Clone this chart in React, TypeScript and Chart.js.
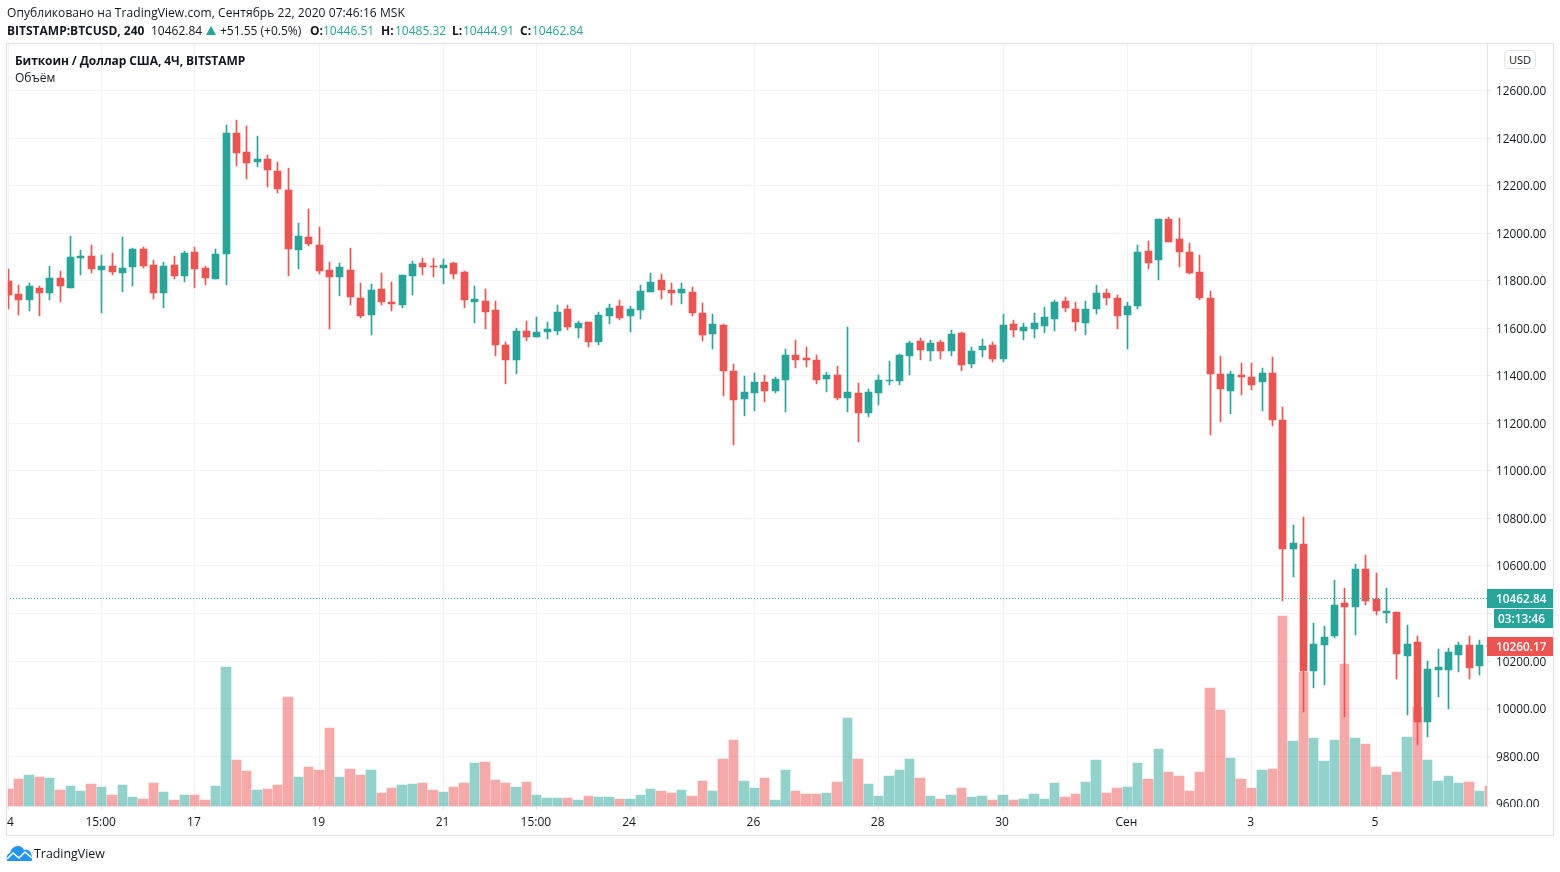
import React, { useEffect, useRef } from "react";
import { Chart, registerables } from "chart.js";

Chart.register(...registerables);

const opens = [11799,11745,11719,11770,11749,11812,11770,11896,11904,11846,11862,11833,11858,11934,11867,11749,11867,11820,11921,11854,11808,11913,12422,12343,12300,12313,12262,12182,11930,11985,11951,11846,11816,11846,11728,11656,11764,11709,11696,11819,11873,11861,11852,11873,11835,11709,11713,11675,11528,11465,11587,11562,11583,11587,11680,11600,11625,11541,11650,11692,11650,11675,11751,11802,11760,11747,11751,11663,11574,11612,11419,11301,11326,11372,11338,11381,11486,11473,11465,11385,11402,11305,11326,11242,11326,11376,11376,11482,11545,11503,11541,11503,11578,11448,11507,11528,11469,11616,11587,11595,11608,11637,11713,11680,11621,11680,11747,11726,11656,11694,11926,11888,12060,11976,11921,11837,11728,11408,11336,11403,11395,11374,11412,11214,10671,10692,10157,10266,10304,10443,10426,10586,10460,10401,10405,10220,10279,9942,10161,10161,10224,10266,10178,10266];
const highs = [11848,11782,11791,11778,11862,11841,11989,11930,11951,11909,11917,11985,11938,11942,11888,11879,11904,11926,11942,11862,11934,12456,12477,12452,12410,12330,12300,12275,12044,12102,12027,11879,11875,11938,11791,11787,11831,11793,11823,11882,11894,11894,11890,11877,11840,11776,11764,11713,11541,11600,11629,11646,11625,11696,11696,11629,11625,11667,11701,11717,11692,11781,11831,11827,11789,11789,11772,11705,11659,11616,11448,11397,11410,11402,11393,11511,11549,11520,11486,11414,11440,11604,11368,11343,11402,11461,11490,11545,11557,11549,11549,11591,11583,11520,11553,11541,11658,11633,11621,11663,11688,11717,11730,11709,11713,11781,11764,11738,11711,11951,11968,12060,12069,12065,11959,11909,11757,11484,11420,11454,11454,11433,11479,11269,10772,10805,10359,10346,10540,10506,10607,10645,10570,10506,10405,10351,10304,10199,10250,10254,10279,10304,10287,10290];
const lows = [11681,11656,11673,11652,11719,11711,11770,11825,11833,11665,11825,11753,11778,11854,11724,11686,11808,11795,11770,11782,11808,11782,12283,12229,12279,12195,12170,11820,11850,11947,11829,11597,11736,11698,11644,11572,11696,11671,11684,11738,11823,11814,11785,11806,11684,11621,11595,11482,11364,11406,11545,11562,11553,11570,11591,11557,11520,11528,11616,11633,11583,11637,11751,11722,11696,11701,11650,11545,11511,11313,11107,11229,11250,11288,11326,11246,11431,11435,11364,11330,11296,11246,11120,11225,11275,11360,11360,11402,11465,11461,11469,11482,11419,11431,11477,11456,11456,11562,11549,11557,11578,11587,11667,11587,11570,11659,11696,11595,11513,11681,11850,11804,11963,11858,11829,11719,11151,11206,11239,11319,11340,11252,11189,10452,10553,9984,10085,10098,10296,9963,10309,10435,10393,10359,10123,9972,9845,9879,10048,9997,10153,10123,10140,10240];
const closes = [11740,11719,11778,11749,11812,11778,11900,11904,11850,11862,11837,11854,11934,11862,11749,11862,11820,11917,11850,11812,11913,12422,12338,12296,12313,12267,12187,11934,11989,11955,11841,11816,11858,11732,11652,11761,11709,11701,11823,11869,11856,11856,11865,11827,11717,11722,11667,11528,11465,11587,11562,11583,11595,11667,11604,11621,11541,11654,11684,11642,11680,11755,11793,11760,11747,11764,11663,11570,11616,11419,11296,11330,11372,11338,11385,11486,11465,11465,11381,11402,11305,11330,11242,11330,11381,11381,11486,11536,11507,11536,11503,11574,11444,11503,11524,11469,11612,11591,11604,11621,11646,11709,11684,11625,11680,11747,11726,11650,11694,11921,11875,12060,11963,11921,11833,11728,11408,11345,11408,11395,11361,11412,11214,10671,10696,10157,10271,10300,10435,10426,10586,10452,10410,10410,10229,10271,9942,10165,10174,10237,10266,10170,10266,10260.17];
const volumes = [1670,2670,3070,2870,2770,1570,1970,1470,2170,1870,1070,2070,870,670,2270,1370,570,1070,1070,570,1970,13870,4570,3470,1570,1670,2070,10870,2870,3870,3570,7770,2870,3670,3070,3570,1270,1770,2070,2200,2300,1600,1400,1900,2300,4300,4400,2600,2300,1900,2400,1100,800,800,800,600,1000,900,900,700,700,1100,1700,1500,1300,1600,1000,2500,1500,4700,6600,2500,1800,2800,600,3600,1500,1200,1200,1300,2400,8800,4700,2200,1000,3000,3600,4700,2800,1000,700,1100,1800,900,1000,600,1100,600,700,1200,700,2300,900,1200,2400,4600,1300,1800,1900,4300,2700,5700,3400,3000,1500,3400,11800,9600,4800,2700,1800,3600,3700,19000,6500,13400,6800,4500,6600,14200,6800,6200,3900,3100,3400,6900,9900,4600,2500,3000,2300,2400,1500,2000];

const tickIndices = [0, 9, 18, 30, 42, 51, 60, 72, 84, 96, 108, 120, 132];
const tickLabels = ["4", "15:00", "17", "19", "21", "15:00", "24", "26", "28", "30", "Сен", "3", "5"];
const priceTicks = [9600, 9800, 10000, 10200, 10400, 10600, 10800, 11000, 11200, 11400, 11600, 11800, 12000, 12200, 12400, 12600];
const currentPrice = 10462.84;
const lastBarClose = 10260.17;
const countdown = "03:13:46";

const FONT = "'Open Sans', sans-serif";
const UP = "#26a69a";
const DOWN = "#ef5350";
const UP_VOL = "rgba(38,166,154,0.5)";
const DOWN_VOL = "rgba(239,83,80,0.5)";
const GRID = "#f0f3fa";
const FRAME = "#e0e3eb";
const TEXT = "#131722";

const isUp = (i: number) => closes[i] >= opens[i];

const snapPlugin = {
  id: "snap",
  afterDatasetsUpdate(chart: any) {
    const floorY = chart.chartArea.bottom;
    chart.getSortedVisibleDatasetMetas().forEach((meta: any) => {
      if (meta.type !== "bar") return;
      const kind = chart.data.datasets[meta.index].label;
      const cols = meta.data.map((el: any) => Math.round(el.x - 0.5));
      meta.data.forEach((el: any, i: number) => {
        const col = cols[i];
        if (kind === "Объём") {
          const right = col + 5;
          const left = i > 0 ? cols[i - 1] + 6 : col - 4;
          el.x = (left + right) / 2;
          el.width = right - left;
          el.y = Math.round(el.y);
          el.base = floorY;
        } else {
          el.x = col + 0.5;
          el.y = Math.round(el.y);
          el.base = Math.round(el.base);
          if (el.y === el.base) el.base += 1;
        }
      });
    });
  },
};

const decorPlugin = {
  id: "decor",
  beforeDraw(chart: any) {
    const xItems = chart.scales.x.getLabelItems();
    xItems.forEach((it: any, i: number) => {
      if (!it.shifted) {
        it.shifted = true;
        it.options.translation[0] += i === 0 ? 2 : -1;
      }
    });
    chart.scales.y.getLabelItems().forEach((it: any) => {
      if (!it.shifted) {
        it.shifted = true;
        const t = it.options.translation;
        t[1] = Math.round(t[1] - 0.5) + 1.5;
      }
    });
  },
  afterDraw(chart: any) {
    const { ctx, scales } = chart;
    const area = chart.chartArea;
    const y = scales.y;
    ctx.save();
    ctx.fillStyle = "#ffffff";
    ctx.fillRect(area.right + 1, area.bottom + 1, 65, 12);
    ctx.strokeStyle = FRAME;
    ctx.lineWidth = 1;
    ctx.strokeRect(6.5, 43.5, 1547, 792);
    const tag = (value: number, color: string, text: string, x: number, dy: number, tx: number) => {
      const cy = Math.floor(y.getPixelForValue(value)) + 0.5 + dy;
      ctx.fillStyle = color;
      ctx.fillRect(x, cy - 9.5, 1553 - x, 19);
      ctx.fillStyle = "#ffffff";
      ctx.font = `600 11.8px ${FONT}`;
      ctx.textBaseline = "middle";
      ctx.textAlign = "left";
      ctx.fillText(text, tx, cy + 1);
    };
    tag(currentPrice, UP, currentPrice.toFixed(2), 1487, 0, 1496);
    tag(currentPrice, UP, countdown, 1494, 20, 1498);
    tag(lastBarClose, DOWN, lastBarClose.toFixed(2), 1487, 0, 1496);
    ctx.restore();
  },
};

const headerItems: [string, number, number, string, boolean][] = [
  ["Опубликовано на TradingView.com, Сентябрь 22, 2020 07:46:16 MSK", 7, 13, TEXT, false],
  ["BITSTAMP:BTCUSD, 240", 7, 30.5, TEXT, true],
  ["10462.84", 151, 30.5, TEXT, false],
  ["+51.55 (+0.5%)", 220, 30.5, TEXT, false],
  ["O:", 310, 30.5, TEXT, true],
  ["10446.51", 323, 30.5, UP, false],
  ["H:", 381, 30.5, TEXT, true],
  ["10485.32", 395, 30.5, UP, false],
  ["L:", 452, 30.5, TEXT, true],
  ["10444.91", 463, 30.5, UP, false],
  ["C:", 520, 30.5, TEXT, true],
  ["10462.84", 532, 30.5, UP, false],
  ["Биткоин / Доллар США, 4Ч, BITSTAMP", 15, 61, TEXT, true],
  ["Объём", 15, 78, TEXT, false],
];

export default function App() {
  const ref = useRef<HTMLCanvasElement>(null);
  useEffect(() => {
    const pts = (a: any[]) => a.map((y, x) => ({ x, y }));
    const chart = new Chart(ref.current as any, {
      type: "bar",
      data: {
        datasets: [
          {
            type: "line",
            label: "Цена",
            data: [{ x: -1, y: currentPrice }, { x: 144, y: currentPrice }],
            borderColor: UP,
            borderWidth: 1,
            borderDash: [1, 2],
            pointRadius: 0,
            order: 0,
            clip: 0,
            yAxisID: "y",
          },
          {
            label: "Тело",
            data: pts(opens.map((o, i) => [o, closes[i]])),
            backgroundColor: opens.map((_, i) => (isUp(i) ? UP : DOWN)),
            barThickness: 7,
            grouped: false,
            order: 1,
            clip: 0,
            yAxisID: "y",
          },
          {
            label: "Тень",
            data: pts(lows.map((l, i) => [l, highs[i]])),
            backgroundColor: lows.map((_, i) => (isUp(i) ? UP : DOWN)),
            barThickness: 1,
            grouped: false,
            order: 2,
            clip: 0,
            yAxisID: "y",
          },
          {
            label: "Объём",
            data: pts(volumes),
            backgroundColor: volumes.map((_, i) => (isUp(i) ? UP_VOL : DOWN_VOL)),
            barThickness: 9,
            grouped: false,
            order: 3,
            clip: 0,
            yAxisID: "vol",
          },
        ] as any,
      },
      options: {
        responsive: false,
        animation: false,
        layout: { autoPadding: false, padding: { left: 7, top: 43, right: 7, bottom: 37 } },
        plugins: { legend: { display: false }, tooltip: { enabled: false } },
        scales: {
          x: {
            type: "linear",
            offset: false,
            bounds: "data",
            min: -0.0646,
            max: 142.71,
            grid: { offset: false, color: GRID, tickColor: FRAME, tickLength: 4 },
            border: { color: FRAME },
            afterBuildTicks: (s: any) => {
              s.ticks = tickIndices.map((value) => ({ value }));
            },
            afterFit: (s: any) => {
              s.height = 29;
            },
            ticks: {
              autoSkip: false,
              maxRotation: 0,
              padding: 5,
              color: TEXT,
              font: { family: FONT, size: 12 },
              callback: (v: any) => tickLabels[tickIndices.indexOf(v)],
            },
          },
          y: {
            type: "linear",
            position: "right",
            bounds: "data",
            min: 9590,
            max: 12800,
            grid: { color: GRID, tickColor: FRAME, tickLength: 4 },
            border: { color: FRAME },
            afterBuildTicks: (s: any) => {
              s.ticks = priceTicks.map((value) => ({ value }));
            },
            afterFit: (s: any) => {
              s.width = 66;
            },
            ticks: {
              autoSkip: false,
              padding: 5,
              color: TEXT,
              font: { family: FONT, size: 11.8 },
              callback: (v: any) => Number(v).toFixed(2),
            },
          },
          vol: { type: "linear", display: false, min: 0, max: 76300 },
        },
      } as any,
      plugins: [snapPlugin, decorPlugin] as any,
    });
    return () => chart.destroy();
  }, []);

  const base: React.CSSProperties = {
    position: "absolute",
    fontFamily: FONT,
    fontSize: 12,
    lineHeight: "16px",
    whiteSpace: "pre",
  };
  return (
    <div style={{ position: "absolute", left: 0, top: 0, width: 1560, height: 872, background: "#fff", overflow: "hidden" }}>
      <canvas ref={ref} width={1560} height={872} style={{ position: "absolute", left: 0, top: 0, display: "block" }} />
      {headerItems.map(([text, x, y, color, bold], i) => (
        <div
          key={i}
          style={{
            ...base,
            left: x,
            top: y - 8,
            color,
            fontWeight: bold ? 700 : 400,
            letterSpacing: i === 0 ? 0.07 : i === 12 ? -0.08 : 0,
          }}
        >
          {text}
        </div>
      ))}
      <svg style={{ position: "absolute", left: 206, top: 26 }} width="10" height="9" viewBox="0 0 10 9">
        <polygon points="5,0 10,9 0,9" fill={UP} />
      </svg>
      <div
        style={{
          ...base,
          left: 1504,
          top: 50,
          width: 30,
          height: 17,
          border: `1px solid ${FRAME}`,
          borderRadius: 4,
          textAlign: "center",
          fontSize: 11,
          lineHeight: "17px",
          color: TEXT,
          background: "#fff",
        }}
      >
        USD
      </div>
      <svg style={{ position: "absolute", left: 6, top: 845 }} width="27" height="17" viewBox="0 0 27 17">
        <path
          d="M1 16 C0 12 1 9 4 8 C5 4 8 1 12 1 C15 1 17 3 18 5 C22 4 25 6 25.5 10 C26.5 12 26.5 14 25.5 16 Z"
          fill="#2196f3"
        />
        <path d="M1 14 L7 8 L13 13 L19 7 L26 13" fill="none" stroke="#fff" strokeWidth="1.6" />
      </svg>
      <div style={{ ...base, left: 34, top: 846, fontSize: 12.4, color: TEXT }}>TradingView</div>
    </div>
  );
}
